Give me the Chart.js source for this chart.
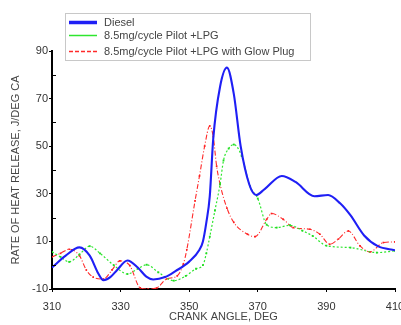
<!DOCTYPE html>
<html lang="en">
<head>
  <meta charset="UTF-8">
  <title>Rate of heat release</title>
  <script src="https://cdn.jsdelivr.net/npm/chart.js"></script>
  <style>
    body { margin: 0; background: #fff; }
    canvas { display: block; }
  </style>
</head>
<body>
  <canvas id="hrr" width="401" height="325"></canvas>

  <script>
    const xTicks = [310, 330, 350, 370, 390, 410];
    const yTicks = [-10, 10, 30, 50, 70, 90];
    const yMinor = [0, 20, 40, 60, 80];

    const dieselAngle = [310, 314, 318, 321, 323.5, 325, 327, 329, 332, 335, 337.5, 339.5, 343, 346, 350, 353, 354, 355, 356, 357, 359, 361, 363, 365, 367.5, 369.5, 372, 377, 381, 386.5, 390.5, 394, 397, 401, 405, 410];
    const dieselRate  = [-1, 4, 7.5, 4, -3.5, -6.3, -5, -2, 2, -1, -4.8, -6, -5, -2.5, 1.5, 6.5, 10, 18, 29, 53, 75, 83, 72, 50, 34, 29.5, 32, 37.5, 35, 29, 29.5, 26, 21, 12.5, 8, 6.3];

    const lpgAngle = [310, 312.5, 315, 318, 321, 324, 328, 332, 335, 337.6, 341, 345.5, 349, 352, 354, 355, 356, 357.5, 359, 360, 361.5, 363, 365.3, 367.7, 370, 372.6, 375.5, 379.4, 383, 386, 390, 397, 404.7, 410];
    const lpgRate  = [5.6, 3.5, 1.4, 4.5, 8, 5, 0, -3.7, -1.5, 0.2, -3, -6.5, -4.5, -1.5, 0, 5, 12, 23, 34, 44, 49, 50.7, 45.8, 33.2, 28, 17, 15.8, 16.8, 14.5, 12.3, 8.2, 7.4, 5.3, 6];

    const glowAngle = [310, 312.5, 315, 318, 320, 322, 325, 327.5, 329.8, 332.7, 335.7, 338, 340.6, 343.4, 346.5, 348.3, 349.3, 351.7, 353, 354.5, 356, 357, 358, 359, 361, 363, 367, 369.2, 372.6, 374, 377.4, 380.3, 385.2, 388.1, 391, 393.5, 396.4, 399.8, 402.7, 406.6, 410];
    const glowRate  = [3.5, 5, 6.7, 4, -2, -5, -5.8, -2, 1.8, -0.2, -9.5, -10, -9.5, -5.8, -4.5, 0.5, 6.5, 27, 37.5, 50, 58.5, 54, 41.6, 34, 24, 18, 13, 12, 19.3, 21.7, 19.3, 15.8, 15.1, 13, 8.8, 11, 14.4, 8.1, 5.6, 9.5, 9.8];

    const toPoints = (xs, ys) => xs.map((x, i) => ({ x, y: ys[i] }));

    // legend drawn inside the plot, overlapping the top like the original
    const boxLegend = {
      id: 'boxLegend',
      afterDraw(chart) {
        const ctx = chart.ctx;
        const rows = [22, 35, 51];
        ctx.save();
        // small inward minor ticks on the y axis
        const ys = chart.scales.y, left = chart.chartArea.left;
        ctx.strokeStyle = '#000';
        ctx.lineWidth = 1;
        yMinor.forEach(v => {
          const py = Math.round(ys.getPixelForValue(v)) + 0.5;
          ctx.beginPath();
          ctx.moveTo(left, py);
          ctx.lineTo(left + 4, py);
          ctx.stroke();
        });

        ctx.fillStyle = '#fff';
        ctx.fillRect(65, 13, 245, 47);
        ctx.strokeStyle = '#c8c8c8';
        ctx.strokeRect(65.5, 13.5, 245, 47);
        chart.data.datasets.forEach((ds, i) => {
          const y = rows[i] + 0.5;
          ctx.strokeStyle = ds.borderColor;
          ctx.lineWidth = ds.legendWidth;
          ctx.setLineDash(ds.legendDash);
          ctx.beginPath();
          ctx.moveTo(69, y);
          ctx.lineTo(97, y);
          ctx.stroke();
          ctx.setLineDash([]);
          ctx.fillStyle = '#444';
          ctx.font = '11px "Liberation Sans", Arial, sans-serif';
          ctx.textBaseline = 'middle';
          ctx.fillText(ds.label, 104, y);
        });
        ctx.restore();
      }
    };

    const font = { family: '"Liberation Sans", Arial, sans-serif', size: 11 };

    new Chart(document.getElementById('hrr'), {
      type: 'line',
      data: {
        datasets: [
          {
            label: 'Diesel',
            data: toPoints(dieselAngle, dieselRate),
            borderColor: '#1f1ff5',
            borderWidth: 2.1,
            legendWidth: 3.5,
            legendDash: [],
            pointRadius: 0,
            cubicInterpolationMode: 'monotone'
          },
          {
            label: '8.5mg/cycle Pilot +LPG',
            data: toPoints(lpgAngle, lpgRate),
            borderColor: '#2ee62e',
            borderWidth: 1.2,
            borderDash: [2, 2],
            legendWidth: 1.5,
            legendDash: [],
            pointStyle: 'rect',
            pointRadius: 1.3,
            pointBackgroundColor: '#22dd22',
            pointBorderWidth: 0,
            cubicInterpolationMode: 'monotone'
          },
          {
            label: '8.5mg/cycle Pilot +LPG with Glow Plug',
            data: toPoints(glowAngle, glowRate),
            borderColor: '#ff2a2a',
            borderWidth: 1.1,
            borderDash: [5, 2, 1, 2],
            legendWidth: 1.5,
            legendDash: [4, 2],
            pointStyle: 'rect',
            pointRadius: 1.2,
            pointBackgroundColor: '#ff2020',
            pointBorderWidth: 0,
            cubicInterpolationMode: 'monotone'
          }
        ]
      },
      options: {
        responsive: false,
        animation: false,
        layout: { padding: { top: 51, right: 6, left: 0, bottom: 0 } },
        plugins: { legend: { display: false }, tooltip: { enabled: false } },
        scales: {
          x: {
            type: 'linear',
            min: 310,
            max: 410,
            afterBuildTicks: s => { s.ticks = xTicks.map(v => ({ value: v })); },
            afterFit: s => { s.height = 36; s.paddingRight = 0; s.paddingLeft = 0; },
            ticks: { font, color: '#333', padding: 8, maxRotation: 0 },
            border: { color: '#000', width: 2 },
            grid: { drawOnChartArea: false, tickLength: 3, color: '#000' },
            title: { display: true, text: 'CRANK ANGLE, DEG', font, color: '#444', padding: { top: 0, bottom: 1 } }
          },
          y: {
            min: -10,
            max: 90,
            afterBuildTicks: s => { s.ticks = yTicks.map(v => ({ value: v })); },
            afterFit: s => { s.width = 52; },
            ticks: { font, color: '#333', padding: 1 },
            border: { color: '#000', width: 2 },
            grid: { drawOnChartArea: false, tickLength: 3, color: '#000' },
            title: { display: true, text: 'RATE OF HEAT RELEASE, J/DEG CA', font, color: '#444', padding: { top: 9, bottom: 0 } }
          }
        }
      },
      plugins: [boxLegend]
    });
  </script>
</body>
</html>
